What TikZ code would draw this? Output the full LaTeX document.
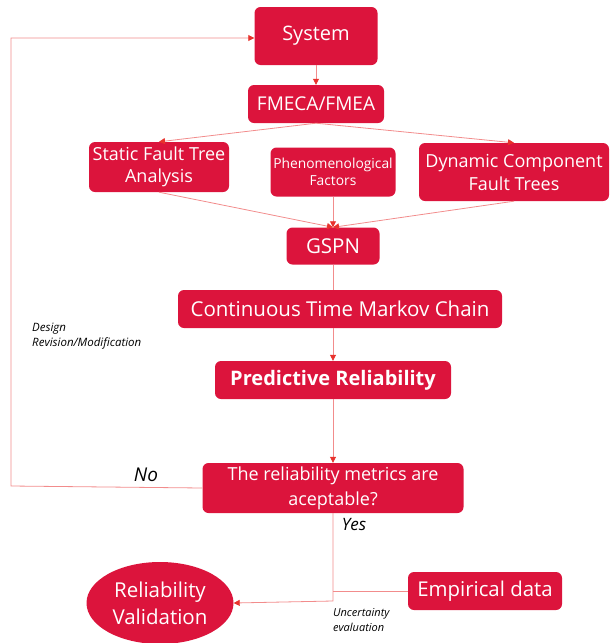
\documentclass[tikz,border=0pt]{standalone}
\usepackage{fontspec}
\setmainfont{Open Sans}
\usetikzlibrary{arrows.meta,positioning,shapes.geometric}

\definecolor{boxred}{RGB}{220,20,60}
\definecolor{linered}{RGB}{242,140,140}
\definecolor{tipred}{RGB}{232,50,45}

\tikzset{
  box/.style={fill=boxred, text=white, rounded corners=6pt, inner sep=0pt, align=center},
  link/.style={draw=linered, line width=0.8pt},
  arr/.style={link, -{Triangle[length=6pt,width=6pt,color=tipred]}},
  note/.style={font=\itshape, align=left, inner sep=0pt, anchor=west},
}

\begin{document}
\begin{tikzpicture}[x=1pt, y=-1pt]
  \useasboundingbox (0,0) rectangle (610,643);
  % Define corner points of the loops
  \coordinate (LB) at (11,486);
  \coordinate (LT) at (11,38);
  \coordinate (J) at (333,601);
  \coordinate (E) at (333,591);

  % Boxes
  \node[box, minimum width=123pt, minimum height=58pt, font=\fontsize{20}{23}\selectfont] (sys) at (316,36) {System};
  \node[box, minimum width=136pt, minimum height=38pt, font=\fontsize{19}{22}\selectfont] (fmeca) at (316,104) {FMECA/FMEA};
  \node[box, minimum width=140pt, minimum height=50pt, font=\fontsize{18}{22}\selectfont] (sfta) at (159,167) {Static Fault Tree\\Analysis};
  \node[box, minimum width=125pt, minimum height=49pt, font=\fontsize{13.8}{17}\selectfont] (phen) at (333,172) {Phenomenological\\Factors};
  \node[box, minimum width=190pt, minimum height=58pt, font=\fontsize{18}{23}\selectfont] (dcft) at (514,172) {Dynamic Component\\Fault Trees};
  \node[box, minimum width=93pt, minimum height=37pt, font=\fontsize{20.5}{23}\selectfont] (gspn) at (333,246) {GSPN};
  \node[box, minimum width=324pt, minimum height=38pt, font=\fontsize{20.5}{23}\selectfont] (ctmc) at (340,309) {Continuous Time Markov Chain};
  \node[box, minimum width=236pt, minimum height=38pt, font=\bfseries\fontsize{20}{23}\selectfont] (pred) at (333,380) {Predictive Reliability};
  \node[box, minimum width=261pt, minimum height=50pt, font=\fontsize{18}{25}\selectfont] (dec) at (333,488) {The reliability metrics are\\aceptable?};
  \node[ellipse, fill=boxred, text=white, inner sep=0pt, align=center, minimum width=147pt, minimum height=82pt, font=\fontsize{20.5}{27}\selectfont] (val) at (160,603) {Reliability\\Validation};
  \node[box, minimum width=154pt, minimum height=38pt, font=\fontsize{20.4}{23}\selectfont] (emp) at (485,591) {Empirical data};

  % Labels
  \node[font=\itshape\fontsize{19}{22}\selectfont, inner sep=0pt] (no) at (146,475) {No};
  \node[font=\itshape\fontsize{17}{20}\selectfont, inner sep=0pt] (yes) at (354,525) {Yes};
  \node[note, font=\itshape\fontsize{11.5}{15}\selectfont] (dr) at (32,336) {Design\\Revision/Modification};
  \node[note, font=\itshape\fontsize{11}{15}\selectfont] (ue) at (333,620) {Uncertainty\\evaluation};

  % Connectors
  \draw[arr] (sys) -- (fmeca);
  \draw[arr] (fmeca.south) -- (sfta.north);
  \draw[arr] (fmeca.south) -- (dcft.north);
  \foreach \src in {sfta, phen, dcft}
      \draw[arr] (\src.south) -- (gspn.north);
  \draw[link] (gspn.south) -- (gspn.south |- ctmc.north);
  \draw[arr] (ctmc.south -| pred.north) -- (pred.north);
  \draw[arr] (pred) -- (dec);
  \draw[arr] (dec.west) -- (LB) -- (LT) -- (LT -| sys.west);
  \draw[arr] (dec.south) -- (J) -- (val.east);
  \draw[link] (emp.west) -- (E);
\end{tikzpicture}
\end{document}
